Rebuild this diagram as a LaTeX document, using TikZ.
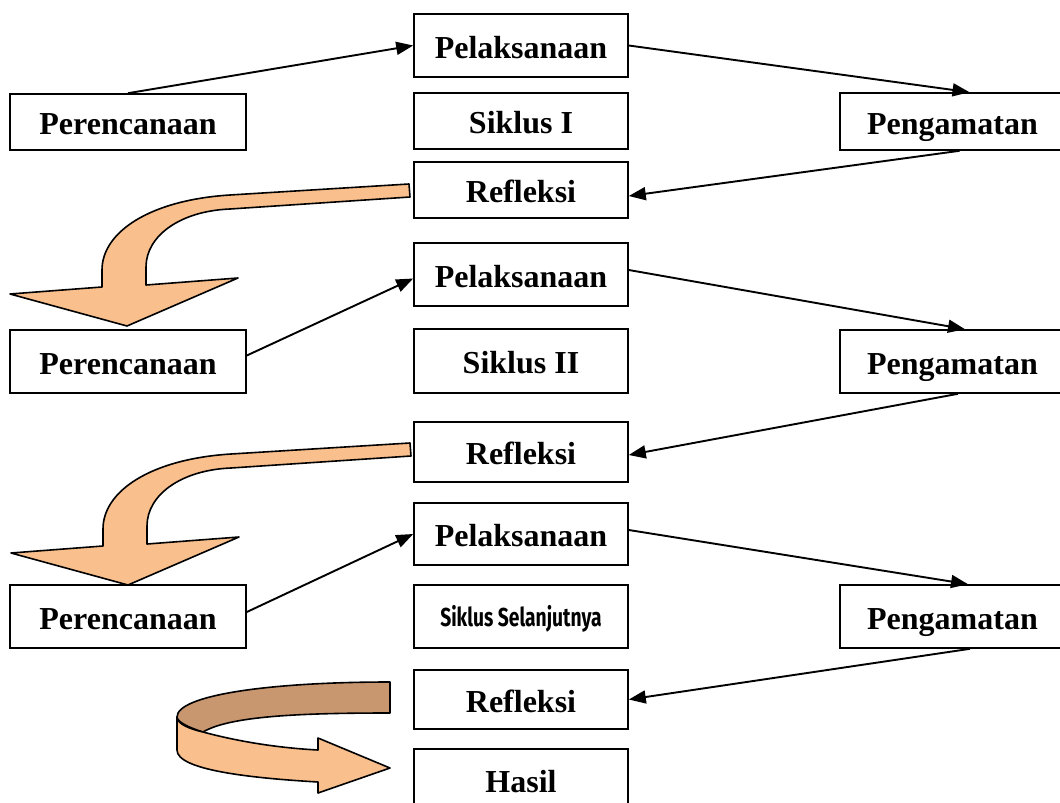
\documentclass[tikz,border=0pt]{standalone}
\usepackage{fontspec}
\setmainfont{Liberation Serif}
\newfontfamily\condfont{Fira Sans}
\usetikzlibrary{arrows.meta,calc}
\definecolor{peach}{HTML}{F9BF8C}
\definecolor{tan}{HTML}{C8966F}
\tikzset{
  box/.style={draw, line width=1.6pt, minimum width=214pt, inner sep=0pt,
    text height=25pt, text depth=0pt,
    font=\fontsize{32}{38}\selectfont\bfseries},
  wbox/.style={box, minimum width=236pt},
  gbox/.style={box, minimum width=225pt},
  arr/.style={line width=1.9pt, -{Triangle[length=17pt,width=13pt]}},
  bigarrow/.style={fill=peach, draw=black, line width=1.6pt, line join=round}
}
\begin{document}
\begin{tikzpicture}[x=1pt,y=-1pt]
\useasboundingbox (0,0) rectangle (1060,803);
% cycle 1
\node[wbox, minimum height=56pt] (P1) at (128,122) {Perencanaan};
\node[box, minimum height=63pt] (L1) at (521,45.5) {Pelaksanaan};
\node[box, minimum height=56pt] (S1) at (521,121) {Siklus I};
\node[box, minimum height=56pt] (R1) at (521,190) {Refleksi};
\node[gbox, minimum height=57pt] (G1) at (952.5,121.5) {Pengamatan};
% cycle 2
\node[box, minimum height=63pt] (L2) at (521,274.5) {Pelaksanaan};
\node[wbox, minimum height=63pt] (P2) at (128,361.5) {Perencanaan};
\node[box, minimum height=64pt] (S2) at (521,361) {Siklus II};
\node[gbox, minimum height=63pt] (G2) at (952.5,361.5) {Pengamatan};
\node[box, minimum height=60pt] (R2) at (521,452) {Refleksi};
% cycle 3
\node[box, minimum height=62pt] (L3) at (521,534) {Pelaksanaan};
\node[wbox, minimum height=63pt] (P3) at (128,616.5) {Perencanaan};
\node[box, minimum height=63pt, text height=20pt] (S3) at (521,616.5) {\condfont\fontsize{26}{30}\selectfont\scalebox{0.74}[1]{Siklus Selanjutnya}};
\node[gbox, minimum height=63pt] (G3) at (952.5,616.5) {Pengamatan};
\node[box, minimum height=59pt] (R3) at (521,699.5) {Refleksi};
\node[box, minimum height=61pt] (H) at (521,779.5) {Hasil};
% connectors
\draw[arr] (P1.north) -- (L1.west);
\draw[arr] (L1.east) -- ([xshift=17pt]G1.north);
\draw[arr] ([xshift=7pt]G1.south) -- ([yshift=-6pt]R1.east);
\draw[arr] ([yshift=6pt]P2.east) -- ([yshift=-4pt]L2.west);
\draw[arr] ([yshift=4.5pt]L2.east) -- ([xshift=12.5pt]G2.north);
\draw[arr] ([xshift=5.5pt]G2.south) -- ([yshift=-3pt]R2.east);
\draw[arr] ([yshift=4.5pt]P3.east) -- (L3.west);
\draw[arr] ([yshift=4pt]L3.east) -- ([xshift=15.5pt]G3.north);
\draw[arr] ([xshift=17.5pt]G3.south) -- (R3.east);
% curved block arrows
\foreach \dx/\dy in {0/0, 1/259} {
\begin{scope}[shift={(\dx,\dy)}]
\draw[bigarrow] (409,184) -- (230,195) .. controls (150,200) and (102,232) .. (102,270)
  -- (102,287) -- (10,294) -- (127,326) -- (238,278) -- (146,285) -- (146,267)
  .. controls (146,236) and (180,211) .. (230,209) -- (410,197) -- cycle;
\end{scope}
}
% final ribbon arrow
\draw[fill=tan, draw=black, line width=1.6pt, line join=round]
  (390,682) -- (390,713) .. controls (300,713) and (230,716) .. (203,732)
  .. controls (190,728) and (177,722) .. (177,717)
  .. controls (177,695) and (270,682) .. (390,682) -- cycle;
\draw[fill=peach, draw=black, line width=1.6pt, line join=round]
  (177,717) .. controls (177,724) and (190,729) .. (203,732)
  .. controls (240,742) and (280,748) .. (318,750) -- (318,738) -- (390,768) -- (318,793) -- (318,782)
  .. controls (250,778) and (177,770) .. (177,750) -- cycle;
\end{tikzpicture}
\end{document}
